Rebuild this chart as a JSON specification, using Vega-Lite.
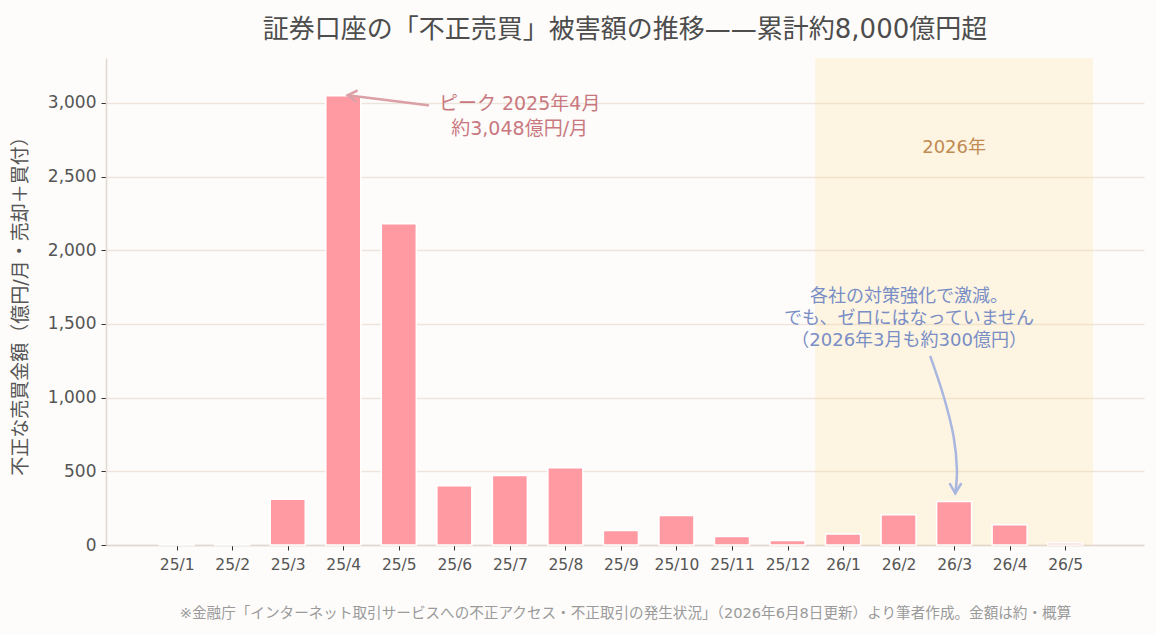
{
  "$schema": "https://vega.github.io/schema/vega-lite/v6.json",
  "width": 1038,
  "height": 487,
  "autosize": {"type": "none"},
  "padding": {"left": 106, "top": 58, "right": 12, "bottom": 89},
  "background": "#FDFCFA",
  "config": {"font": "DejaVu Sans, Noto Sans CJK JP", "view": {"stroke": null}},
  "title": {
    "text": "証券口座の「不正売買」被害額の推移——累計約8,000億円超",
    "fontSize": 26,
    "fontWeight": "normal",
    "color": "#4D4D4D",
    "offset": 15,
    "anchor": "middle"
  },
  "datasets": {
    "bars": [
      {"x": 1, "m": "25/1", "y": 2},
      {"x": 2, "m": "25/2", "y": 3},
      {"x": 3, "m": "25/3", "y": 310},
      {"x": 4, "m": "25/4", "y": 3048},
      {"x": 5, "m": "25/5", "y": 2180},
      {"x": 6, "m": "25/6", "y": 402},
      {"x": 7, "m": "25/7", "y": 472},
      {"x": 8, "m": "25/8", "y": 524},
      {"x": 9, "m": "25/9", "y": 99},
      {"x": 10, "m": "25/10", "y": 200},
      {"x": 11, "m": "25/11", "y": 58},
      {"x": 12, "m": "25/12", "y": 30},
      {"x": 13, "m": "26/1", "y": 74},
      {"x": 14, "m": "26/2", "y": 206},
      {"x": 15, "m": "26/3", "y": 296},
      {"x": 16, "m": "26/4", "y": 138},
      {"x": 17, "m": "26/5", "y": 14}
    ],
    "band": [{"x": 12.5, "x2": 17.5, "y": 0, "y2": 3305}],
    "pinkArrow": [
      {"seg": "a", "k": 0, "x": 5.526, "y": 2984},
      {"seg": "a", "k": 1, "x": 4.081, "y": 3052},
      {"seg": "b", "k": 0, "x": 4.223, "y": 3012},
      {"seg": "b", "k": 1, "x": 4.081, "y": 3052},
      {"seg": "b", "k": 2, "x": 4.241, "y": 3082}
    ],
    "blueCurve": [
      {"k": 0, "x": 14.575, "y": 1277},
      {"k": 1, "x": 14.814, "y": 1006},
      {"k": 2, "x": 14.992, "y": 735},
      {"k": 3, "x": 15.051, "y": 509},
      {"k": 4, "x": 15.021, "y": 351}
    ],
    "blueHead": [
      {"k": 0, "x": 14.926, "y": 414},
      {"k": 1, "x": 15.021, "y": 351},
      {"k": 2, "x": 15.122, "y": 414}
    ],
    "pinkText": [{"x": 7.176, "y": 2990, "t": ["ピーク 2025年4月", "約3,048億円/月"]}],
    "blueText": [{"x": 14.19, "y": 1682, "t": ["各社の対策強化で激減。", "でも、ゼロにはなっていません", "（2026年3月も約300億円）"]}],
    "yearText": [{"x": 15.0, "y": 2693, "t": "2026年"}]
  },
  "encoding": {
    "x": {
      "field": "x",
      "type": "quantitative",
      "scale": {"domain": [-0.183, 18.33], "nice": false, "zero": false},
      "axis": {
        "values": [1, 2, 3, 4, 5, 6, 7, 8, 9, 10, 11, 12, 13, 14, 15, 16, 17],
        "labelExpr": "['25/1','25/2','25/3','25/4','25/5','25/6','25/7','25/8','25/9','25/10','25/11','25/12','26/1','26/2','26/3','26/4','26/5'][datum.value-1]",
        "grid": false,
        "domainColor": "#E3D8CF",
        "domainWidth": 1.5,
        "tickColor": "#333333",
        "tickSize": 5,
        "tickWidth": 1,
        "labelFontSize": 15.5,
        "labelColor": "#555555",
        "labelPadding": 7,
        "labelFlush": false,
        "title": "※金融庁「インターネット取引サービスへの不正アクセス・不正取引の発生状況」（2026年6月8日更新）より筆者作成。金額は約・概算",
        "titleFontSize": 14.6,
        "titleColor": "#9A9A9A",
        "titleFontWeight": "normal",
        "titleY": 68,
        "titleBaseline": "middle"
      }
    },
    "y": {
      "field": "y",
      "type": "quantitative",
      "scale": {"domain": [0, 3305], "nice": false},
      "axis": {
        "values": [0, 500, 1000, 1500, 2000, 2500, 3000],
        "format": ",d",
        "gridColor": "#EEE4DE",
        "gridWidth": 1.3,
        "domainColor": "#E3D8CF",
        "domainWidth": 1.5,
        "tickColor": "#333333",
        "tickSize": 5,
        "tickWidth": 1,
        "labelFontSize": 17,
        "labelColor": "#555555",
        "labelPadding": 5,
        "title": "不正な売買金額（億円/月・売却＋買付）",
        "titleFontSize": 19,
        "titleColor": "#555555",
        "titleFontWeight": "normal",
        "titleX": -86,
        "titleY": 243,
        "titleAngle": -90,
        "titleBaseline": "middle",
        "titleAlign": "center"
      }
    }
  },
  "layer": [
    {
      "data": {"name": "band"},
      "mark": {"type": "rect", "fill": "#FFD98A", "opacity": 0.22},
      "encoding": {"x2": {"field": "x2"}, "y2": {"field": "y2"}}
    },
    {
      "data": {"name": "bars"},
      "mark": {"type": "bar", "size": 35, "color": "#FF9AA2", "stroke": "white", "strokeWidth": 1.5}
    },
    {
      "data": {"name": "pinkArrow"},
      "mark": {"type": "line", "color": "#DBA0A6", "strokeWidth": 2.5, "strokeCap": "round"},
      "encoding": {"detail": {"field": "seg"}, "order": {"field": "k"}}
    },
    {
      "data": {"name": "blueCurve"},
      "mark": {"type": "line", "color": "#A8B6E0", "strokeWidth": 2.5, "interpolate": "cardinal", "strokeCap": "round"},
      "encoding": {"order": {"field": "k"}}
    },
    {
      "data": {"name": "blueHead"},
      "mark": {"type": "line", "color": "#A8B6E0", "strokeWidth": 2.5, "strokeCap": "round"},
      "encoding": {"order": {"field": "k"}}
    },
    {
      "data": {"name": "pinkText"},
      "mark": {"type": "text", "fontSize": 19, "color": "#C9787F", "align": "center", "baseline": "middle", "lineHeight": 25},
      "encoding": {"text": {"field": "t"}}
    },
    {
      "data": {"name": "blueText"},
      "mark": {"type": "text", "fontSize": 18, "color": "#7A8EC6", "align": "center", "baseline": "middle", "lineHeight": 22},
      "encoding": {"text": {"field": "t"}}
    },
    {
      "data": {"name": "yearText"},
      "mark": {"type": "text", "fontSize": 18, "color": "#C08A52", "align": "center", "baseline": "middle"},
      "encoding": {"text": {"field": "t"}}
    }
  ]
}
